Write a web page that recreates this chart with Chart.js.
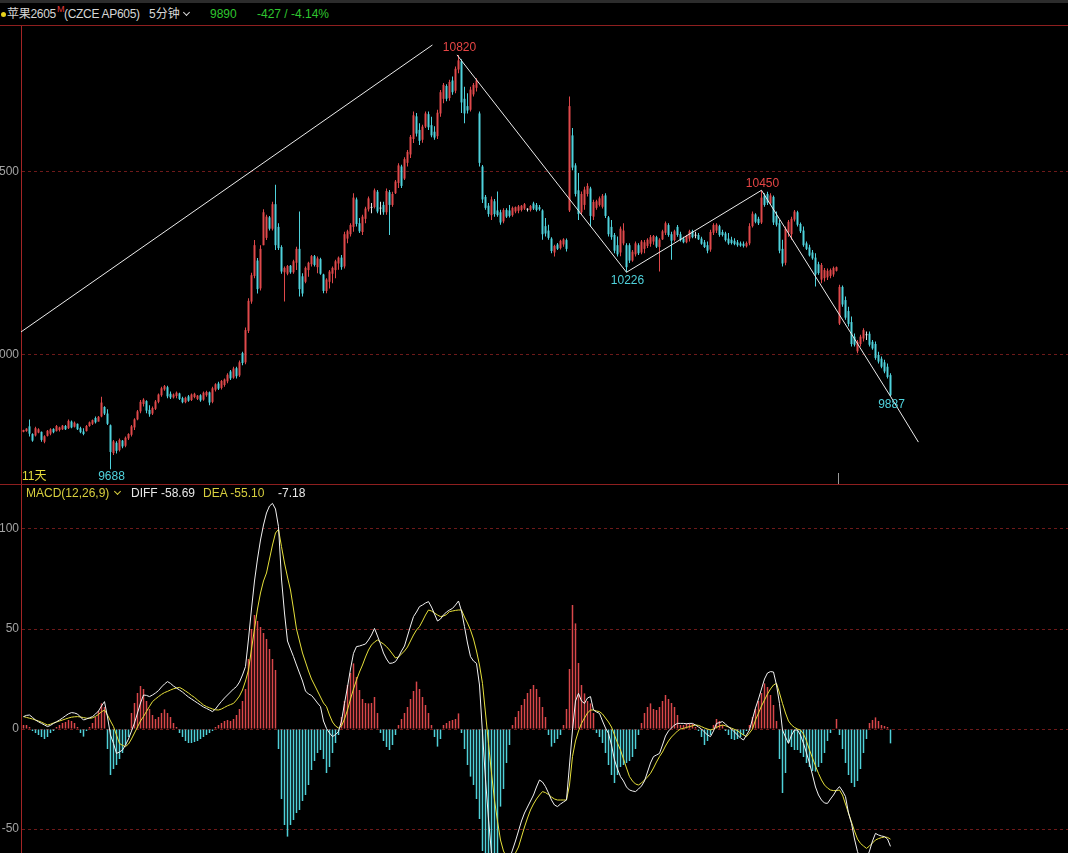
<!DOCTYPE html>
<html lang="zh-CN">
<head>
<meta charset="utf-8">
<title>苹果2605 5分钟</title>
<script src="https://cdn.jsdelivr.net/npm/chart.js@4.4.1/dist/chart.umd.min.js"></script>
<style>
  html, body { margin: 0; padding: 0; background: #000; }
  #screen { position: relative; width: 1068px; height: 853px; overflow: hidden; background: #000;
            font-family: "Liberation Sans", Arial, "Noto Sans CJK SC", sans-serif; font-size: 12px; }
  .topbar { position: absolute; left: 0; top: 0; width: 1068px; height: 3px; background: #2c2c2c; }
  .rule { position: absolute; left: 0; width: 1068px; height: 1px; background: #8e1f1f; }
  .txt { position: absolute; white-space: nowrap; line-height: 16px; }
  .chev { position: absolute; width: 4px; height: 4px; border-right: 1.5px solid; border-bottom: 1.5px solid; transform: rotate(45deg); }
  canvas { position: absolute; left: -30px; }
</style>
</head>
<body>
<div id="screen">
  <div class="topbar"></div>
  <span style="position:absolute;left:1px;top:12px;width:5px;height:5px;border-radius:50%;background:#e6d21c"></span>
  <span class="txt" style="left:7px;top:6px;color:#d6d6d6;letter-spacing:-0.3px">苹果2605</span>
  <span class="txt" style="left:57px;top:4px;font-size:9px;line-height:10px;color:#e03a3a">M</span>
  <span class="txt" style="left:64px;top:6px;color:#d6d6d6;letter-spacing:-0.3px">(CZCE AP605)</span>
  <span class="txt" style="left:149px;top:6px;color:#d6d6d6">5分钟</span>
  <span class="chev" style="left:184px;top:10px;color:#d6d6d6"></span>
  <span class="txt" style="left:210px;top:6px;color:#2fc62f">9890</span>
  <span class="txt" style="left:257px;top:6px;color:#2fc62f">-427 / -4.14%</span>
  <div class="rule" style="top:25px"></div>
  <canvas id="price" width="1098" height="458" style="top:26px"></canvas>
  <span class="txt" style="left:22px;top:468px;color:#e6dc3c">11天</span>
  <div class="rule" style="top:484px"></div>
  <canvas id="macd" width="1098" height="368" style="top:485px"></canvas>
  <span class="txt" style="left:26px;top:485px;color:#d8cf3e">MACD(12,26,9)</span>
  <span class="chev" style="left:115px;top:489px;color:#d8cf3e"></span>
  <span class="txt" style="left:131px;top:485px;color:#e8e8e8">DIFF -58.69</span>
  <span class="txt" style="left:203px;top:485px;color:#d8cf3e">DEA -55.10</span>
  <span class="txt" style="left:278px;top:485px;color:#e8e8e8">-7.18</span>
</div>
<script>
// 5-minute bars
const opens = [
  9790,9792,9805,9784,9780,9788,9790,9763,9779,9785,
  9798,9792,9795,9797,9806,9800,9818,9804,9812,9800,
  9791,9792,9806,9812,9828,9818,9832,9858,9840,9808,
  9732,9760,9740,9766,9752,9772,9782,9802,9824,9846,
  9866,9874,9850,9840,9853,9872,9890,9906,9912,9894,
  9884,9888,9895,9882,9871,9887,9877,9885,9880,9890,
  9878,9890,9898,9872,9905,9922,9910,9918,9928,9955,
  9938,9964,9944,10005,9980,10066,10146,10216,10258,10182,
  10300,10320,10376,10345,10412,10350,10295,10226,10222,10244,
  10226,10252,10290,10215,10200,10232,10248,10270,10240,10262,
  10220,10175,10200,10222,10232,10250,10266,10242,10318,10330,
  10350,10425,10360,10336,10372,10398,10402,10404,10446,10400,
  10410,10390,10445,10410,10442,10470,10515,10482,10525,10548,
  10590,10652,10615,10588,10624,10658,10628,10610,10598,10660,
  10700,10735,10702,10750,10722,10780,10802,10700,10680,10670,
  10712,10730,10660,10515,10432,10408,10382,10420,10395,10390,
  10365,10396,10395,10382,10392,10394,10396,10400,10397,10396,
  10414,10410,10404,10395,10352,10340,10318,10280,10302,10292,
  10302,10314,10395,10600,10518,10450,10390,10410,10440,10455,
  10378,10402,10410,10405,10436,10376,10350,10328,10300,10280,
  10305,10300,10300,10258,10275,10300,10280,10290,10298,10304,
  10310,10322,10295,10316,10334,10355,10330,10314,10350,10330,
  10318,10308,10318,10338,10326,10328,10318,10308,10300,10288,
  10334,10340,10352,10336,10332,10318,10315,10312,10308,10305,
  10304,10297,10305,10352,10384,10372,10362,10436,10440,10414,
  10432,10380,10360,10290,10252,10335,10330,10370,10390,10358,
  10340,10305,10294,10280,10266,10248,10206,10210,10212,10216,
  10220,10230,10086,10186,10150,10120,10090,10050,10010,10030,
  10045,10054,10058,10036,10030,10000,9990,9980,9968,9945
];
const highs = [
  9796,9800,9824,9786,9804,9800,9791,9781,9795,9800,
  9800,9809,9804,9809,9809,9824,9821,9818,9813,9804,
  9800,9809,9818,9824,9832,9833,9886,9860,9852,9810,
  9768,9764,9772,9768,9777,9786,9809,9827,9850,9877,
  9882,9876,9863,9859,9877,9895,9913,9918,9916,9900,
  9895,9900,9897,9886,9886,9891,9895,9897,9891,9893,
  9900,9902,9900,9913,9923,9927,9932,9936,9950,9959,
  9968,9968,9985,10009,10075,10155,10225,10314,10265,10300,
  10398,10383,10380,10419,10465,10360,10300,10242,10246,10246,
  10260,10296,10392,10223,10242,10255,10273,10273,10269,10266,
  10222,10210,10232,10242,10260,10269,10273,10337,10342,10360,
  10442,10430,10374,10383,10405,10433,10415,10455,10451,10419,
  10419,10455,10451,10446,10478,10524,10520,10540,10560,10601,
  10665,10661,10633,10629,10665,10665,10651,10625,10670,10724,
  10743,10740,10752,10761,10788,10820,10808,10733,10715,10733,
  10743,10756,10665,10519,10437,10415,10433,10426,10447,10397,
  10401,10401,10410,10406,10406,10410,10410,10415,10401,10410,
  10419,10415,10410,10398,10374,10356,10322,10301,10306,10315,
  10319,10318,10706,10620,10524,10497,10447,10460,10469,10460,
  10424,10424,10433,10440,10442,10380,10369,10333,10324,10351,
  10360,10305,10305,10287,10310,10305,10314,10314,10319,10328,
  10328,10326,10319,10342,10365,10360,10337,10342,10355,10337,
  10323,10328,10342,10342,10337,10333,10323,10314,10310,10342,
  10360,10360,10356,10342,10337,10333,10323,10319,10314,10310,
  10310,10310,10360,10392,10387,10378,10450,10442,10446,10442,
  10436,10392,10369,10315,10351,10369,10378,10396,10394,10362,
  10351,10310,10301,10287,10278,10255,10251,10238,10236,10236,
  10242,10242,10192,10190,10160,10132,10105,10059,10041,10055,
  10073,10064,10064,10041,10037,10009,9996,9987,9977,9950
];
const lows = [
  9789,9790,9777,9763,9777,9786,9763,9759,9777,9781,
  9786,9791,9791,9795,9795,9798,9800,9802,9795,9786,
  9781,9791,9804,9809,9813,9818,9830,9836,9809,9688,
  9727,9731,9736,9745,9748,9768,9777,9795,9822,9841,
  9859,9841,9831,9836,9850,9868,9886,9902,9882,9880,
  9881,9882,9877,9868,9868,9872,9874,9882,9877,9872,
  9875,9886,9863,9868,9900,9904,9906,9913,9923,9932,
  9935,9936,9940,9972,9975,10060,10140,10210,10168,10176,
  10300,10314,10340,10340,10287,10287,10222,10146,10218,10222,
  10222,10232,10160,10160,10196,10214,10242,10242,10223,10219,
  10169,10169,10182,10196,10210,10233,10233,10236,10305,10324,
  10337,10351,10333,10328,10360,10392,10387,10400,10387,10383,
  10383,10383,10328,10405,10440,10456,10456,10478,10515,10538,
  10579,10597,10574,10580,10620,10615,10595,10588,10590,10651,
  10688,10693,10695,10711,10715,10770,10661,10633,10660,10665,
  10706,10720,10515,10415,10397,10378,10369,10378,10378,10356,
  10360,10374,10376,10378,10387,10387,10392,10396,10392,10392,
  10396,10392,10394,10315,10324,10315,10278,10269,10287,10288,
  10296,10283,10391,10505,10433,10369,10385,10397,10433,10351,
  10369,10397,10406,10400,10374,10324,10315,10278,10269,10270,
  10300,10226,10251,10255,10269,10273,10275,10278,10292,10296,
  10301,10292,10228,10314,10328,10323,10260,10310,10323,10310,
  10305,10305,10310,10319,10319,10314,10301,10292,10278,10282,
  10328,10333,10323,10324,10310,10301,10302,10300,10296,10296,
  10294,10294,10300,10348,10360,10355,10358,10405,10410,10410,
  10355,10351,10278,10242,10245,10323,10315,10365,10351,10333,
  10296,10287,10269,10260,10187,10219,10196,10201,10205,10210,
  10214,10228,10082,10132,10096,10078,10023,10023,10005,10023,
  10037,10041,10023,10014,9987,9977,9964,9950,9936,9887
];
const closes = [
  9795,9799,9785,9766,9800,9797,9768,9778,9793,9797,
  9789,9806,9802,9807,9797,9820,9802,9815,9797,9789,
  9784,9806,9816,9822,9816,9831,9870,9840,9812,9735,
  9764,9738,9768,9750,9774,9784,9805,9824,9846,9872,
  9878,9848,9838,9855,9873,9892,9909,9915,9887,9884,
  9892,9897,9880,9871,9883,9875,9892,9894,9889,9876,
  9897,9899,9870,9909,9920,9908,9929,9933,9946,9936,
  9963,9942,9980,9978,10068,10148,10218,10300,10180,10290,
  10390,10378,10345,10412,10300,10292,10228,10238,10243,10226,
  10256,10290,10180,10168,10238,10252,10270,10246,10264,10222,
  10175,10206,10228,10238,10256,10266,10240,10330,10338,10355,
  10430,10358,10338,10378,10400,10428,10402,10450,10392,10400,
  10390,10448,10410,10440,10474,10518,10462,10535,10555,10596,
  10655,10605,10585,10624,10660,10622,10600,10594,10662,10718,
  10738,10700,10746,10718,10782,10805,10690,10660,10668,10725,
  10738,10750,10525,10425,10402,10385,10425,10385,10382,10362,
  10396,10378,10380,10402,10404,10406,10408,10412,10397,10407,
  10400,10396,10398,10330,10332,10320,10284,10298,10290,10312,
  10316,10290,10680,10512,10440,10385,10440,10452,10462,10380,
  10418,10420,10428,10435,10380,10330,10322,10285,10275,10345,
  10340,10240,10258,10282,10305,10278,10310,10308,10315,10322,
  10325,10296,10315,10338,10360,10328,10312,10338,10328,10314,
  10308,10325,10338,10322,10326,10316,10304,10295,10285,10336,
  10355,10356,10328,10328,10314,10305,10306,10303,10300,10299,
  10298,10306,10352,10386,10364,10360,10430,10410,10416,10436,
  10362,10356,10285,10250,10345,10364,10372,10392,10356,10338,
  10300,10290,10272,10264,10220,10224,10246,10232,10230,10232,
  10238,10240,10186,10138,10102,10085,10030,10028,10036,10050,
  10068,10054,10028,10018,9992,9982,9968,9955,9940,9890
];

// MACD(12,26,9)
const diffVals = [
  6.2,6.8,7.0,5.8,4.5,3.6,2.8,2.0,1.2,1.8,
  2.8,3.6,4.5,5.5,6.6,7.6,8.2,8.0,7.5,6.0,
  4.5,5.0,5.6,6.2,7.5,9.0,11.5,13.7,6.0,-3.0,
  -7.2,-12.2,-11.5,-10.5,-8.0,-5.0,-1.0,3.0,8.0,13.0,
  17.0,16.8,16.2,17.0,18.0,19.2,21.0,22.5,23.7,22.8,
  21.5,20.5,19.5,18.5,17.2,16.0,15.0,14.0,13.0,12.0,
  11.0,10.3,9.5,8.7,10.0,12.0,13.8,15.5,17.0,18.5,
  20.0,21.2,23.5,27.0,31.2,45.0,60.0,74.0,85.0,94.5,
  102.0,108.0,111.5,112.8,110.0,101.2,75.0,58.0,44.0,40.0,
  36.2,32.0,28.0,24.0,19.0,17.5,16.8,15.0,13.0,11.2,
  4.0,0.3,-2.0,-3.8,-2.8,-1.3,4.0,12.8,21.0,30.0,
  37.8,41.2,41.5,42.0,42.5,44.5,47.0,50.3,46.5,42.5,
  38.0,35.0,32.8,33.0,33.7,36.0,39.0,41.5,46.5,51.5,
  56.2,58.5,61.2,62.0,63.0,63.7,61.0,57.5,54.0,55.0,
  57.0,58.5,59.5,60.3,62.0,64.0,59.0,51.2,43.0,36.2,
  34.0,32.8,22.0,-2.0,-25.0,-45.0,-62.0,-75.0,-80.0,-80.0,
  -76.0,-70.0,-65.0,-60.5,-56.0,-51.0,-46.0,-42.0,-39.0,-36.0,
  -33.0,-29.0,-25.5,-26.5,-28.8,-32.0,-35.5,-38.0,-38.8,-37.5,
  -36.5,-35.5,-18.0,-0.5,14.0,17.8,14.0,12.8,15.5,16.2,
  9.5,8.5,7.8,4.0,0.5,-2.2,-8.0,-15.5,-20.0,-23.8,
  -26.0,-29.0,-30.5,-31.0,-31.3,-30.0,-28.5,-26.0,-21.5,-17.0,
  -13.8,-13.0,-12.2,-8.0,-3.5,-1.0,0.5,2.0,2.8,2.8,
  2.8,2.6,2.8,2.8,2.0,1.0,0.0,-1.5,-3.0,-3.8,
  -1.0,2.8,3.2,3.7,2.5,1.0,0.0,-1.5,-3.0,-4.5,
  -5.5,-3.0,-0.5,5.0,10.5,15.0,20.0,25.0,28.0,28.7,
  28.5,22.0,12.8,-0.5,-4.0,-7.2,-3.0,-0.5,-0.5,-3.0,
  -7.2,-12.0,-17.0,-23.0,-29.0,-33.0,-35.5,-37.0,-37.2,-35.0,
  -33.0,-30.5,-28.8,-31.0,-33.8,-42.0,-47.2,-55.0,-61.3,-65.0,
  -67.0,-65.0,-61.0,-56.0,-52.2,-53.0,-53.5,-53.8,-55.0,-58.69
];
const deaVals = [
  6.2,5.8,5.4,5.0,4.5,4.0,3.4,2.7,2.0,2.4,
  3.0,3.5,4.0,4.5,5.0,5.5,5.9,6.1,6.2,6.0,
  5.7,5.4,5.3,5.6,6.3,7.3,8.6,9.5,7.0,4.0,
  1.2,-3.0,-7.2,-8.2,-8.8,-7.5,-5.0,-2.0,1.0,4.0,
  6.2,8.8,11.3,13.7,15.0,16.2,17.3,18.2,18.8,19.5,
  20.1,20.5,20.8,20.0,19.0,18.0,16.8,15.8,14.5,13.3,
  12.0,11.2,10.6,10.0,9.6,9.5,10.0,10.8,11.6,12.2,
  12.8,14.5,16.5,19.5,24.0,29.5,40.0,50.0,60.0,68.0,
  74.0,78.0,85.0,92.0,98.0,99.8,91.2,83.0,76.0,69.5,
  60.0,50.0,44.0,38.0,33.5,29.0,25.0,22.0,19.0,16.0,
  13.0,11.2,7.0,3.5,1.5,0.5,1.5,5.0,9.5,15.0,
  20.0,24.5,28.5,32.0,36.0,39.5,42.0,43.5,44.5,43.5,
  42.5,41.2,39.5,37.5,35.5,36.0,37.5,39.0,41.0,44.0,
  47.0,49.5,51.2,54.0,57.0,59.5,59.0,58.0,57.0,56.2,
  56.5,57.2,58.7,59.0,59.3,59.5,59.5,56.0,53.0,49.5,
  45.0,39.0,32.0,22.8,8.0,-7.2,-22.0,-35.5,-46.0,-55.5,
  -61.0,-64.0,-65.0,-64.0,-62.0,-59.0,-54.0,-49.0,-44.5,-40.5,
  -37.5,-35.0,-33.0,-31.3,-31.8,-32.8,-34.0,-35.0,-35.5,-35.5,
  -35.5,-35.5,-28.0,-13.8,-6.0,-1.0,2.8,5.5,8.0,9.5,
  9.5,9.0,8.7,7.5,5.5,3.5,1.0,-3.0,-7.0,-10.5,
  -15.0,-19.5,-23.8,-26.0,-27.5,-28.0,-27.0,-25.5,-24.0,-22.2,
  -19.5,-16.5,-13.8,-11.5,-8.5,-6.0,-4.0,-2.5,-1.0,0.0,
  0.3,0.8,1.2,1.6,2.0,1.8,1.2,0.5,0.0,-0.5,
  0.0,0.8,1.5,2.0,1.6,1.0,0.4,-0.2,-0.8,-2.0,
  -3.0,-3.8,-2.0,0.0,4.5,8.0,11.5,14.5,17.5,20.0,
  22.0,22.8,18.0,12.8,8.0,4.0,2.0,0.8,0.0,-0.5,
  -2.5,-6.0,-10.5,-14.5,-18.5,-22.2,-25.5,-28.0,-29.5,-30.5,
  -30.8,-30.8,-30.5,-33.0,-37.5,-42.0,-46.5,-51.0,-55.0,-57.2,
  -58.5,-59.7,-58.5,-57.0,-55.5,-54.8,-54.3,-54.0,-54.2,-55.10
];
const macdVals = [
  2,2,1,-1,-2,-3,-4,-5,-4,-2,
  -1,1,2,3,3.5,4.5,4,3,1,-2,
  -3.8,-1,1,3,6,9,12.8,11,-10,-23,
  -20,-18,-15,-12,-8,-4,8,13,18,21.5,
  20,14,10,7,5,6,8,9.8,8,6,
  3,1,-2,-4,-6,-7,-7,-6.5,-6,-5,
  -4,-3,-2,-1,1,2,3,4,4.5,4,
  5,7,10,14,20,35,50,57,54,51,
  48,45,40,35,29.5,-10,-35,-48,-53.8,-48,
  -45.5,-42,-40.5,-36,-33,-28,-20.5,-16,-12,-10.5,
  -15,-22,-19,-12,-7,-3,6,14,22,28,
  32.8,26,19.5,15,13,12.8,13,16,8,-2,
  -6,-9,-10.5,-8,-3,2,5,8,11,15,
  19,23.7,20,16,12,8,2,-4,-8.8,-5,
  2,3,4,4.5,5,7.8,-2,-10,-18,-23.8,
  -28,-35,-45,-61,-68,-72,-75,-72,-65,-38.8,
  -30,-17,-8,2,6,9,12,15,18,20,
  22,20,16,11,6,-3,-8.8,-7,-5,-3,
  2,10,30,62,52.8,33,22,17.8,14,12.8,
  8,-2,-4,-7,-12,-18,-23,-27,-23,-19,
  -18,-17,-16,-14,-10,-3,3,8,11,12.8,
  10,9.5,11,14,17,15,13,11,7,2,
  2,2.8,2.8,2.5,1,-1,-4,-8,-6,-3,
  2,5,4,2,-1,-3,-5,-5.5,-5,-4,
  -3,-1,2,6,10,14,18,22.8,21,17,
  12,4,-15,-32,-22,-7,-9,-10.5,-10.5,-12,
  -14,-17,-19,-21,-21.3,-19,-17,-12,-6,-2,
  0,5,-3,-10,-17,-23,-27,-29,-26,-20,
  -12,-5,3,4.5,5.8,4,2,1.5,1,-7.18
];

// axis ticks
const priceTicks = [10000, 10500];
const macdTicks = [-50, 0, 50, 100];

// drawn lines (bar index, price)
const trendX = [-0.83, 136.3];
const trendY = [10063, 10847];
const zigX = [144.5, 201, 246, 289, 298.3];
const zigY = [10820, 10226, 10450, 9887, 9762];

// extreme-price labels (bar index, price)
const markIdx = [145, 246, 201, 289, 29];
const markVal = [10820, 10450, 10226, 9887, 9688];

// session boundary between bars
const sessionBreaks = [271.5];

const RED = '#e0494b', CYAN = '#4fd2dc', WHITE = '#e4e4e4';
const GRID = '#6e1a1a', AXIS = '#a32525';
const FONT = { family: '"Liberation Sans", Arial, sans-serif', size: 12 };
const X_MIN = -0.8333, X_MAX = 348.1667;

const idx = closes.map((c, i) => i);
const candleColor = idx.map(i => closes[i] > opens[i] ? RED : (closes[i] < opens[i] ? CYAN : WHITE));

function fixAxis(scale) {
    scale.width = 51;
    scale.paddingTop = 0;
    scale.paddingBottom = 0;
}

function yAxis(min, max, ticks) {
    return {
        position: 'left',
        min: min,
        max: max,
        afterBuildTicks: s => { s.ticks = ticks.map(v => ({ value: v })); },
        afterFit: fixAxis,
        grid: { color: GRID, drawTicks: false, lineWidth: 1 },
        border: { color: AXIS, width: 1, dash: [3, 3] },
        ticks: { color: '#a3a3a3', font: FONT, padding: 2, callback: v => String(v) }
    };
}

const xAxis = { type: 'linear', display: false, offset: false, min: X_MIN, max: X_MAX, grid: { offset: false } };

// Price labels and session tick
const markerPlugin = {
    id: 'markers',
    afterDatasetsDraw(chart) {
        const { ctx, chartArea } = chart;
        const x = chart.scales.x, y = chart.scales.y;
        ctx.save();
        ctx.font = '12px "Liberation Sans", Arial, sans-serif';
        ctx.textAlign = 'center';
        ctx.textBaseline = 'middle';
        markIdx.forEach((m, k) => {
            const peak = markVal[k] === highs[m];
            ctx.fillStyle = peak ? '#e64545' : CYAN;
            const px = x.getPixelForValue(m) + 1;
            const py = y.getPixelForValue(markVal[k]) + (peak ? -7 : 8);
            ctx.fillText(String(markVal[k]), px, py);
        });
        ctx.strokeStyle = '#9a9a9a';
        ctx.lineWidth = 1;
        sessionBreaks.forEach(b => {
            const px = Math.round(x.getPixelForValue(b)) + 0.5;
            ctx.beginPath();
            ctx.moveTo(px, chartArea.bottom - 11);
            ctx.lineTo(px, chartArea.bottom);
            ctx.stroke();
        });
        ctx.restore();
    }
};

// Price chart
const priceChart = new Chart(document.getElementById('price').getContext('2d'), {
    type: 'bar',
    data: {
        datasets: [
            {
                type: 'line',
                data: trendX.map((v, k) => ({ x: v, y: trendY[k] })),
                borderColor: '#ececec', borderWidth: 1, pointRadius: 0, tension: 0, order: 0
            },
            {
                type: 'line',
                data: zigX.map((v, k) => ({ x: v, y: zigY[k] })),
                borderColor: '#ececec', borderWidth: 1, pointRadius: 0, tension: 0, order: 0
            },
            {
                data: idx.map(i => ({ x: i, y: [opens[i], closes[i]] })),
                backgroundColor: candleColor,
                barThickness: 2, grouped: false, minBarLength: 1, inflateAmount: 0, order: 1
            },
            {
                data: idx.map(i => ({ x: i, y: [lows[i], highs[i]] })),
                backgroundColor: candleColor,
                barThickness: 1, grouped: false, inflateAmount: 0, order: 2
            }
        ]
    },
    options: {
        responsive: false,
        animation: false,
        layout: { padding: 0 },
        plugins: { legend: { display: false }, tooltip: { enabled: false } },
        scales: { x: xAxis, y: yAxis(9647.5, 10898.9, priceTicks) }
    },
    plugins: [markerPlugin]
});

// MACD chart
const macdChart = new Chart(document.getElementById('macd').getContext('2d'), {
    type: 'bar',
    data: {
        datasets: [
            {
                type: 'line',
                data: idx.map(i => ({ x: i, y: diffVals[i] })),
                borderColor: '#f2f2f2', borderWidth: 1, pointRadius: 0, tension: 0, order: 0
            },
            {
                type: 'line',
                data: idx.map(i => ({ x: i, y: deaVals[i] })),
                borderColor: '#e6e03a', borderWidth: 1, pointRadius: 0, tension: 0, order: 1
            },
            {
                data: idx.map(i => ({ x: i, y: macdVals[i] })),
                backgroundColor: macdVals.map(v => v >= 0 ? '#d9474a' : '#4fd0d8'),
                barThickness: 1.5, grouped: false, inflateAmount: 0, order: 2
            }
        ]
    },
    options: {
        responsive: false,
        animation: false,
        layout: { padding: 0 },
        plugins: { legend: { display: false }, tooltip: { enabled: false } },
        scales: { x: xAxis, y: yAxis(-62, 122, macdTicks) }
    }
});
</script>
</body>
</html>
